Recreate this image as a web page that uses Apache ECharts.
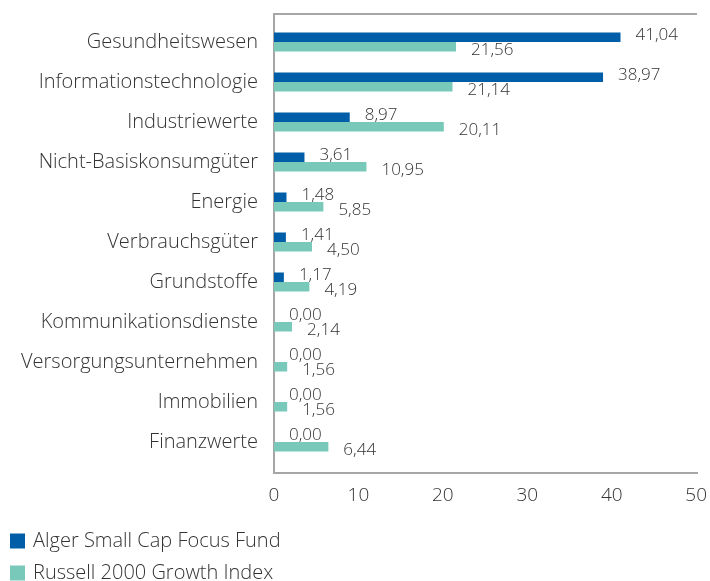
<!DOCTYPE html>
<html>
<head>
<meta charset="utf-8">
<script src="https://cdn.jsdelivr.net/npm/echarts@6/dist/echarts.min.js"></script>
<style>
  html, body { margin: 0; padding: 0; background: #fff; }
  #chart { width: 710px; height: 581px; }
</style>
</head>
<body>
<div id="chart"></div>
<script>
// Sektoren, von oben nach unten
var categories = ['Gesundheitswesen', 'Informationstechnologie', 'Industriewerte',
    'Nicht-Basiskonsumgüter', 'Energie', 'Verbrauchsgüter', 'Grundstoffe',
    'Kommunikationsdienste', 'Versorgungsunternehmen', 'Immobilien', 'Finanzwerte'];
var fundValues = [41.04, 38.97, 8.97, 3.61, 1.48, 1.41, 1.17, 0.00, 0.00, 0.00, 0.00];
var indexValues = [21.56, 21.14, 20.11, 10.95, 5.85, 4.50, 4.19, 2.14, 1.56, 1.56, 6.44];
var seriesNames = ['Alger Small Cap Focus Fund', 'Russell 2000 Growth Index'];
var xTicks = [0, 10, 20, 30, 40, 50];

var textColor = '#333333';
var font = '"Open Sans", sans-serif';
var light = 300;

// plot box
var gLeft = 274, gTop = 22, gRight = 697, gBottom = 462;

function fmt(p) {
    return p.value.toFixed(2).replace('.', ',');
}

var chart = echarts.init(document.getElementById('chart'));
chart.setOption({
    animation: false,
    textStyle: { fontFamily: font },
    grid: {
        left: gLeft, top: gTop,
        width: gRight - gLeft, height: gBottom - gTop
    },
    legend: {
        orient: 'vertical',
        left: 10,
        top: 531,
        padding: 0,
        height: 120,
        itemWidth: 15,
        itemHeight: 15,
        itemGap: 12,
        icon: 'rect',
        textStyle: { fontSize: 20, color: textColor, fontFamily: font, fontWeight: light, padding: [0, 0, 0, 3] },
        data: seriesNames
    },
    xAxis: {
        type: 'value',
        min: xTicks[0],
        max: xTicks[xTicks.length - 1],
        interval: 10,
        axisLine: { show: false },
        axisTick: { show: false },
        splitLine: { show: false },
        axisLabel: { fontSize: 19, color: textColor, margin: 24, fontFamily: font, fontWeight: light }
    },
    yAxis: {
        type: 'category',
        inverse: true,
        data: categories,
        axisLine: { show: false },
        axisTick: { show: false },
        axisLabel: { fontSize: 20, color: textColor, margin: 16, fontFamily: font, fontWeight: light }
    },
    graphic: [{
        type: 'polyline',
        silent: true,
        shape: { points: [[gRight, gTop - 8], [gLeft, gTop - 8], [gLeft, gBottom + 11], [gRight + 1, gBottom + 11]] },
        style: { stroke: '#a6a6a6', lineWidth: 2, fill: null }
    }],
    series: [{
        name: seriesNames[0],
        type: 'bar',
        data: fundValues,
        barWidth: 9.5,
        barGap: '0%',
        itemStyle: { color: '#005EA8' },
        label: {
            show: true, position: 'right', distance: 15, offset: [0, -2],
            formatter: fmt, fontSize: 17, color: textColor, fontFamily: font, fontWeight: light
        }
    }, {
        name: seriesNames[1],
        type: 'bar',
        data: indexValues,
        barWidth: 9.5,
        barGap: '0%',
        itemStyle: { color: '#78C9B9' },
        label: {
            show: true, position: 'right', distance: 15, offset: [0, 3],
            formatter: fmt, fontSize: 17, color: textColor, fontFamily: font, fontWeight: light
        }
    }]
});
</script>
</body>
</html>
